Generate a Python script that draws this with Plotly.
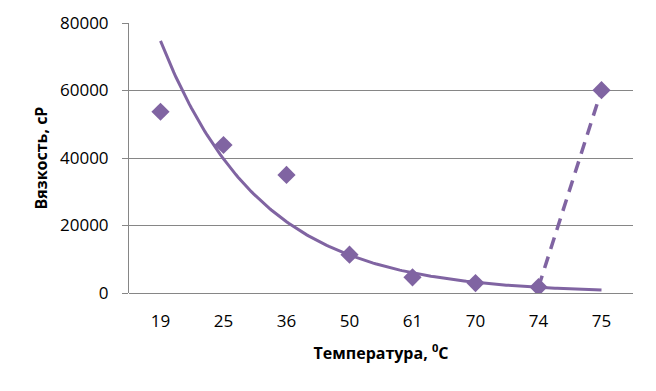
import numpy as np
import plotly.graph_objects as go

categories = ["19", "25", "36", "50", "61", "70", "74", "75"]
viscosity = [53700, 43850, 35000, 11350, 4650, 2950, 1750, 60100]
trend_points = 7  # trend fitted over the first seven points (19..74)

idx = np.arange(1, len(categories) + 1)
color = "#8064A2"

# exponential trendline (like Excel) fitted on first points
b, ln_a = np.polyfit(idx[:trend_points], np.log(viscosity[:trend_points]), 1)
xs = np.linspace(1, len(categories), 200)
ys = np.exp(ln_a) * np.exp(b * xs)

fig = go.Figure()
fig.add_trace(go.Scatter(x=xs, y=ys, mode="lines",
                         line=dict(color=color, width=3), hoverinfo="skip"))
fig.add_trace(go.Scatter(x=idx[-2:], y=viscosity[-2:], mode="lines",
                         line=dict(color=color, width=3.5, dash="12px,8px")))
fig.add_trace(go.Scatter(x=idx, y=viscosity, mode="markers",
                         marker=dict(symbol="diamond", size=14, color=color)))

font_family = "Open Sans, Liberation Sans, Arial, sans-serif"
fig.update_layout(
    width=640, height=375,
    margin=dict(l=121, r=15, t=15, b=90),
    paper_bgcolor="white", plot_bgcolor="white",
    showlegend=False,
    font=dict(family=font_family, size=17, color="black"),
    xaxis=dict(
        automargin=False,
        range=[0.5, len(categories) + 0.5],
        tickmode="array", tickvals=idx, ticktext=categories,
        showgrid=False, zeroline=False,
        showline=False, ticks="", ticklabelstandoff=16,
        tickfont=dict(size=17),
        title=dict(text="<b>Температура, <sup>0</sup>C</b>", font=dict(size=16), standoff=16),
    ),
    yaxis=dict(
        automargin=False,
        range=[0, 80000], dtick=20000, tickformat="d",
        showgrid=True, gridcolor="#868686", gridwidth=1,
        zeroline=True, zerolinecolor="#868686", zerolinewidth=1,
        showline=True, linecolor="#868686", linewidth=1,
        ticks="outside", ticklen=6, tickcolor="#868686",
        ticklabelstandoff=10,
        tickfont=dict(size=17),
        title=dict(text="<b>Вязкость, сР</b>", font=dict(size=16), standoff=8),
    ),
)

fig.write_html("out.html")
